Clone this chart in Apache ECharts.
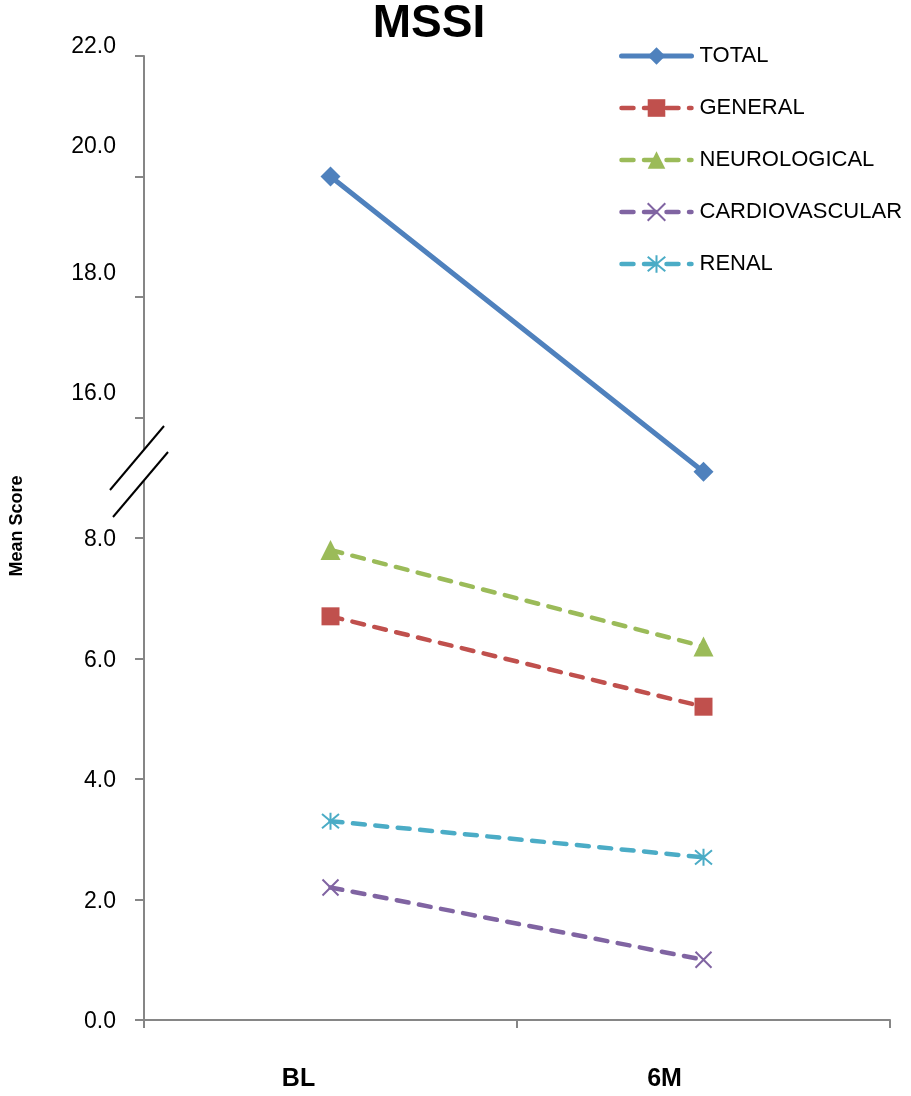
<!DOCTYPE html>
<html>
<head>
<meta charset="utf-8">
<script src="https://cdn.jsdelivr.net/npm/echarts@6/dist/echarts.min.js"></script>
<style>html,body{margin:0;padding:0;background:#fff}#c{width:911px;height:1096px}</style>
</head>
<body>
<div id="c"></div>
<script>
// ---- data ----
var categories = ['BL', '6M'];
var seriesNames = ['TOTAL', 'GENERAL', 'NEUROLOGICAL', 'CARDIOVASCULAR', 'RENAL'];
var total = [20.0, 15.1];
var general = [6.7, 5.2];
var neurological = [7.8, 6.2];
var cardiovascular = [2.2, 1.0];
var renal = [3.3, 2.7];
var yTickLabels = ['0.0', '2.0', '4.0', '6.0', '8.0', '16.0', '18.0', '20.0', '22.0'];

// axis break: real values 8..16 compressed; above 16 shifted down by 6
var BREAK_LOW = 8, BREAK_SHIFT = 6;
function toAxis(v) { return v > BREAK_LOW ? v - BREAK_SHIFT : v; }
function mapArr(a) { return a.map(toAxis); }

var colors = ['#4F81BD', '#C0504D', '#9BBB59', '#8064A2', '#4BACC6'];
var FONT = '"Liberation Sans", Arial, sans-serif';
var labelStyleKeys = ['z', 'z', 'z', 'z', 'z', 'd', 'c', 'b', 'a'];

var chart = echarts.init(document.getElementById('c'), null, { renderer: 'canvas' });

function mk(name, data, idx, symbol, size, dashed, extra) {
  var s = {
    name: name,
    type: 'line',
    data: mapArr(data),
    symbol: symbol,
    symbolSize: size,
    showSymbol: true,
    animation: false,
    lineStyle: {
      color: colors[idx],
      width: dashed ? 4.5 : 5,
      type: dashed ? [12, 10.5] : 'solid',
      cap: 'round'
    },
    itemStyle: { color: colors[idx] },
    emphasis: { disabled: true },
    z: 3
  };
  if (extra) s.itemStyle = Object.assign(s.itemStyle, extra);
  return s;
}

var option = {
  backgroundColor: '#ffffff',
  animation: false,
  title: {
    text: 'MSSI',
    left: 424,
    textAlign: 'center',
    top: -4,
    textStyle: { fontFamily: FONT, fontWeight: 'bold', fontSize: 46, color: '#000' }
  },
  legend: {
    orient: 'vertical',
    left: 614,
    top: 40,
    itemWidth: 70,
    itemHeight: 22,
    itemGap: 30,
    data: seriesNames,
    lineStyle: { width: 'inherit' },
    textStyle: { fontFamily: FONT, fontSize: 22, color: '#000', padding: [0, 0, 0, 3] }
  },
  grid: { left: 142, right: 21, top: 56, bottom: 76 },
  xAxis: {
    type: 'category',
    data: categories,
    boundaryGap: true,
    axisLine: { lineStyle: { color: '#868686', width: 2 } },
    axisTick: { show: true, length: 8, lineStyle: { color: '#868686', width: 2 } },
    axisLabel: {
      margin: 47,
      fontFamily: FONT,
      fontWeight: 'bold',
      fontSize: 25,
      color: '#000',
      formatter: function (v, i) { return i === 0 ? '{a|' + v + '}' : '{b|' + v + '}'; },
      rich: {
        a: { fontFamily: FONT, fontWeight: 'bold', fontSize: 25, color: '#000', padding: [0, 64, 0, 0] },
        b: { fontFamily: FONT, fontWeight: 'bold', fontSize: 25, color: '#000', padding: [0, 78, 0, 0] }
      }
    }
  },
  yAxis: {
    type: 'value',
    min: 0,
    max: 16,
    interval: 2,
    name: 'Mean Score',
    nameLocation: 'middle',
    nameGap: 118,
    nameRotate: 90,
    nameTextStyle: { fontFamily: FONT, fontWeight: 'bold', fontSize: 18, color: '#000', padding: [0, 0, 0, 24] },
    splitLine: { show: false },
    axisLine: { show: true, lineStyle: { color: '#868686', width: 2 } },
    axisTick: { show: true, length: 9, lineStyle: { color: '#868686', width: 2 } },
    axisLabel: {
      margin: 28,
      fontFamily: FONT,
      fontSize: 23,
      color: '#000',
      formatter: function (v) {
        var i = Math.round(v / 2);
        return '{' + labelStyleKeys[i] + '|' + yTickLabels[i] + '}';
      },
      rich: {
        z: { fontFamily: FONT, fontSize: 23, color: '#000', padding: [4, 0, 0, 0] },
        a: { fontFamily: FONT, fontSize: 23, color: '#000', padding: [0, 0, 18, 0] },
        b: { fontFamily: FONT, fontSize: 23, color: '#000', padding: [0, 0, 60, 0] },
        c: { fontFamily: FONT, fontSize: 23, color: '#000', padding: [0, 0, 46, 0] },
        d: { fontFamily: FONT, fontSize: 23, color: '#000', padding: [0, 0, 48, 0] }
      }
    }
  },
  graphic: [
    { type: 'polygon', z: 100, shape: { points: [[110, 490], [164, 426], [168, 452], [113, 517]] }, style: { fill: '#fff' } },
    { type: 'line', z: 101, shape: { x1: 110, y1: 490, x2: 164, y2: 426 }, style: { stroke: '#000', lineWidth: 2 } },
    { type: 'line', z: 101, shape: { x1: 113, y1: 517, x2: 168, y2: 452 }, style: { stroke: '#000', lineWidth: 2 } }
  ],
  series: [
    mk('TOTAL', total, 0, 'diamond', 20, false),
    mk('GENERAL', general, 1, 'rect', 18, true),
    mk('NEUROLOGICAL', neurological, 2, 'triangle', 20, true),
    mk('CARDIOVASCULAR', cardiovascular, 3, 'path://M0,0L20,20M20,0L0,20', 16, true,
       { borderColor: colors[3], borderWidth: 2 }),
    mk('RENAL', renal, 4, 'path://M0,0L20,20M20,0L0,20M10,-2L10,22', 17, true,
       { borderColor: colors[4], borderWidth: 2 })
  ]
};
chart.setOption(option);
</script>
</body>
</html>
